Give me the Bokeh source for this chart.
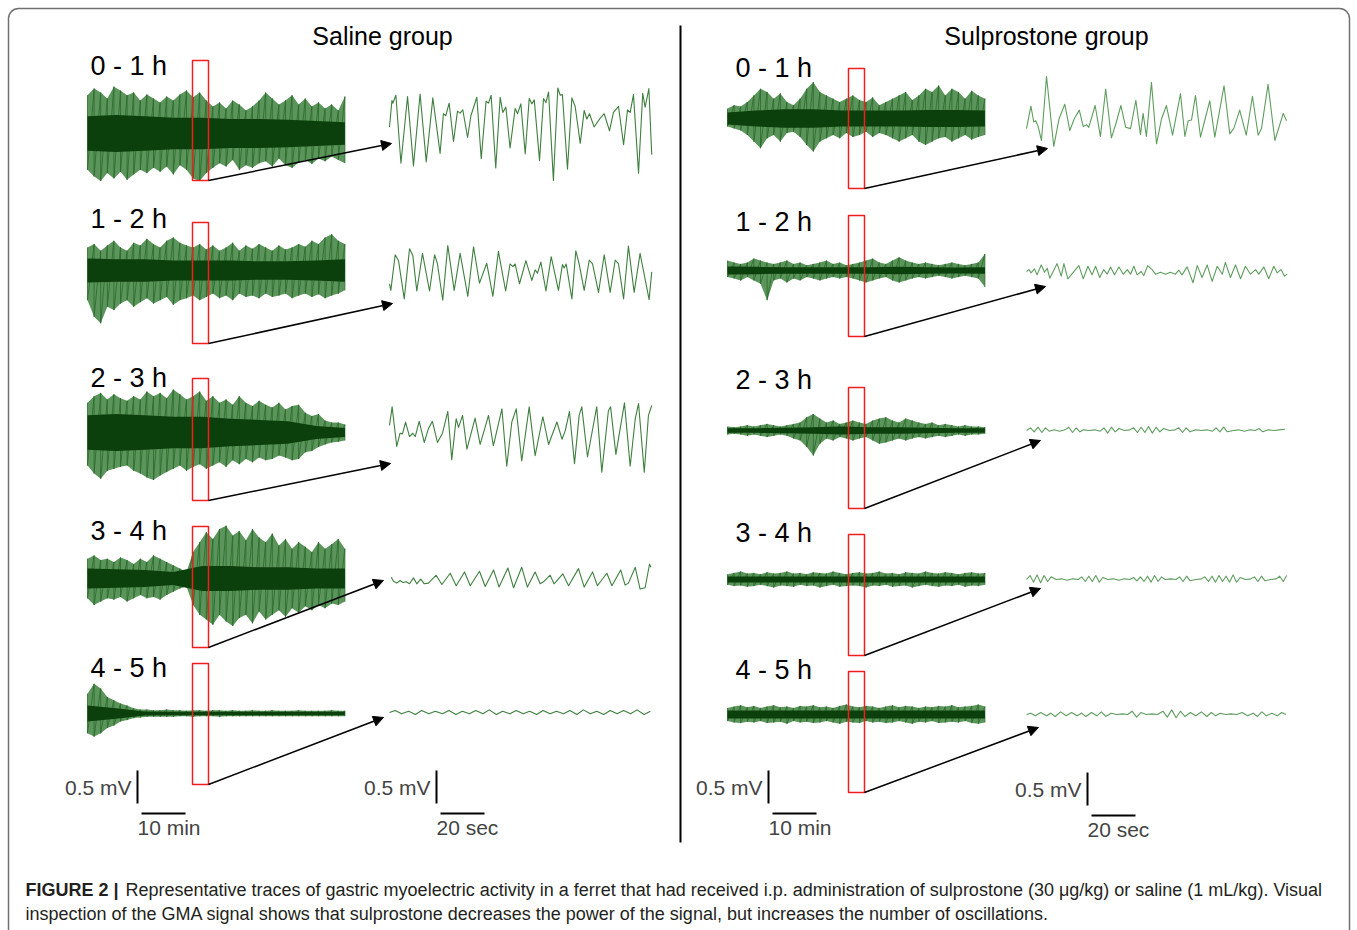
import numpy as np
from bokeh.plotting import figure
from bokeh.models import Range1d, Label, Arrow, NormalHead, BoxAnnotation
from bokeh.embed import file_html
from bokeh.resources import INLINE

# ---------------- DATA ----------------
GROUPS = ["Saline group", "Sulprostone group"]
PERIODS = ["0 - 1 h", "1 - 2 h", "2 - 3 h", "3 - 4 h", "4 - 5 h"]
SCALE_MV = 0.5      # mV
SCALE_MIN = 10      # min
SCALE_SEC = 20      # s
CAPTION_BOLD = "FIGURE 2 |"
CAPTION_1 = ("Representative traces of gastric myoelectric activity in a ferret that had received i.p. "
             "administration of sulprostone (30 \u03bcg/kg) or saline (1 mL/kg). Visual")
CAPTION_2 = ("inspection of the GMA signal shows that sulprostone decreases the power of the signal, "
             "but increases the number of oscillations.")

# raw 1-h traces: envelope (mV) sampled every 1.5 min, dense core half-width (mV)
RAW_T = [0.0, 1.5, 3.0, 4.5, 6.0, 7.5, 9.0, 10.5, 12.0, 13.5, 15.0, 16.5, 18.0, 19.5, 21.0, 22.5,
         24.0, 25.5, 27.0, 28.5, 30.0, 31.5, 33.0, 34.5, 36.0, 37.5, 39.0, 40.5, 42.0, 43.5, 45.0,
         46.5, 48.0, 49.5, 51.0, 52.5, 54.0, 55.5, 57.0, 58.5]
CORE_T = [0.0, 6.5, 13.0, 19.5, 26.0, 32.5, 39.0, 45.5, 52.0, 58.5]

SAL_HI = [
    [0.58, 0.68, 0.62, 0.53, 0.71, 0.65, 0.58, 0.62, 0.50, 0.59, 0.53, 0.47, 0.56, 0.50, 0.59, 0.65, 0.55, 0.62, 0.50, 0.41,
     0.47, 0.38, 0.50, 0.44, 0.35, 0.41, 0.50, 0.62, 0.53, 0.44, 0.50, 0.58, 0.44, 0.53, 0.41, 0.47, 0.38, 0.44, 0.35, 0.56],
    [0.35, 0.40, 0.30, 0.38, 0.45, 0.35, 0.30, 0.42, 0.38, 0.48, 0.40, 0.35, 0.45, 0.50, 0.42, 0.38, 0.35, 0.40, 0.32, 0.38,
     0.30, 0.35, 0.42, 0.30, 0.38, 0.33, 0.40, 0.35, 0.30, 0.38, 0.32, 0.35, 0.40, 0.36, 0.45, 0.40, 0.50, 0.55, 0.45, 0.40],
    [0.45, 0.55, 0.60, 0.50, 0.58, 0.52, 0.48, 0.55, 0.50, 0.62, 0.55, 0.60, 0.52, 0.65, 0.58, 0.50, 0.55, 0.62, 0.48, 0.55,
     0.45, 0.50, 0.42, 0.55, 0.45, 0.40, 0.48, 0.42, 0.38, 0.45, 0.35, 0.40, 0.42, 0.30, 0.25, 0.28, 0.18, 0.15, 0.15, 0.12],
    [0.30, 0.35, 0.28, 0.30, 0.25, 0.32, 0.28, 0.22, 0.30, 0.25, 0.35, 0.30, 0.25, 0.20, 0.15, 0.10, 0.40, 0.55, 0.70, 0.60,
     0.75, 0.80, 0.65, 0.72, 0.58, 0.75, 0.62, 0.55, 0.68, 0.50, 0.60, 0.45, 0.55, 0.48, 0.40, 0.55, 0.45, 0.52, 0.60, 0.45],
    [0.30, 0.45, 0.38, 0.25, 0.20, 0.15, 0.12, 0.08, 0.06, 0.06, 0.05, 0.05, 0.06, 0.05, 0.05, 0.04, 0.05, 0.05, 0.04, 0.05,
     0.05, 0.04, 0.05, 0.04, 0.04, 0.05, 0.04, 0.04, 0.05, 0.04, 0.04, 0.04, 0.05, 0.04, 0.04, 0.04, 0.04, 0.05, 0.04, 0.04],
]
SAL_LO = [
    [-0.55, -0.65, -0.72, -0.60, -0.68, -0.58, -0.70, -0.62, -0.55, -0.60, -0.52, -0.58, -0.50, -0.62, -0.48, -0.55, -0.68, -0.72, -0.60, -0.52,
     -0.45, -0.50, -0.40, -0.55, -0.48, -0.52, -0.45, -0.42, -0.50, -0.38, -0.48, -0.52, -0.44, -0.40, -0.46, -0.38, -0.42, -0.35, -0.40, -0.45],
    [-0.45, -0.70, -0.80, -0.55, -0.60, -0.50, -0.45, -0.55, -0.48, -0.42, -0.50, -0.45, -0.40, -0.52, -0.45, -0.42, -0.38, -0.45, -0.40, -0.35,
     -0.42, -0.38, -0.45, -0.35, -0.40, -0.38, -0.42, -0.35, -0.40, -0.38, -0.35, -0.42, -0.38, -0.35, -0.40, -0.36, -0.42, -0.38, -0.35, -0.30],
    [-0.50, -0.62, -0.70, -0.58, -0.55, -0.52, -0.50, -0.58, -0.62, -0.68, -0.72, -0.65, -0.60, -0.55, -0.50, -0.58, -0.52, -0.48, -0.55, -0.50,
     -0.45, -0.52, -0.42, -0.48, -0.40, -0.45, -0.38, -0.42, -0.40, -0.35, -0.38, -0.42, -0.40, -0.30, -0.28, -0.22, -0.18, -0.15, -0.14, -0.12],
    [-0.30, -0.40, -0.35, -0.30, -0.32, -0.28, -0.35, -0.30, -0.25, -0.30, -0.28, -0.32, -0.25, -0.20, -0.15, -0.12, -0.40, -0.55, -0.62, -0.70,
     -0.55, -0.65, -0.72, -0.60, -0.55, -0.68, -0.50, -0.62, -0.55, -0.48, -0.58, -0.45, -0.52, -0.42, -0.48, -0.40, -0.45, -0.38, -0.40, -0.35],
    [-0.30, -0.35, -0.30, -0.22, -0.18, -0.12, -0.10, -0.07, -0.06, -0.05, -0.05, -0.05, -0.05, -0.05, -0.04, -0.04, -0.05, -0.04, -0.04, -0.04,
     -0.05, -0.04, -0.04, -0.04, -0.04, -0.04, -0.04, -0.04, -0.04, -0.04, -0.04, -0.04, -0.04, -0.04, -0.04, -0.04, -0.04, -0.04, -0.04, -0.04],
]
SAL_CORE = [
    [0.26, 0.28, 0.26, 0.24, 0.24, 0.22, 0.22, 0.21, 0.19, 0.17],
    [0.18, 0.17, 0.17, 0.15, 0.15, 0.15, 0.14, 0.14, 0.15, 0.17],
    [0.26, 0.28, 0.26, 0.24, 0.24, 0.21, 0.19, 0.17, 0.10, 0.07],
    [0.15, 0.14, 0.13, 0.10, 0.19, 0.19, 0.17, 0.17, 0.15, 0.15],
    [0.12, 0.08, 0.03, 0.025, 0.025, 0.025, 0.025, 0.025, 0.025, 0.025],
]
SUL_HI = [
    [0.15, 0.20, 0.18, 0.25, 0.35, 0.45, 0.40, 0.30, 0.38, 0.25, 0.20, 0.30, 0.45, 0.55, 0.40, 0.35, 0.30, 0.25, 0.30, 0.35,
     0.28, 0.25, 0.32, 0.20, 0.25, 0.30, 0.35, 0.40, 0.28, 0.35, 0.45, 0.40, 0.50, 0.35, 0.45, 0.40, 0.30, 0.42, 0.35, 0.30],
    [0.15, 0.12, 0.10, 0.12, 0.18, 0.15, 0.12, 0.10, 0.12, 0.15, 0.10, 0.12, 0.08, 0.10, 0.12, 0.15, 0.10, 0.12, 0.08, 0.10,
     0.12, 0.15, 0.18, 0.12, 0.10, 0.15, 0.20, 0.15, 0.12, 0.10, 0.12, 0.10, 0.08, 0.10, 0.12, 0.10, 0.08, 0.10, 0.12, 0.25],
    [0.06, 0.05, 0.06, 0.08, 0.06, 0.08, 0.10, 0.08, 0.06, 0.08, 0.10, 0.12, 0.20, 0.25, 0.18, 0.12, 0.15, 0.10, 0.12, 0.15,
     0.12, 0.10, 0.15, 0.18, 0.20, 0.15, 0.12, 0.18, 0.15, 0.12, 0.10, 0.12, 0.08, 0.10, 0.08, 0.06, 0.08, 0.06, 0.06, 0.05],
    [0.08, 0.10, 0.12, 0.09, 0.10, 0.08, 0.11, 0.09, 0.10, 0.12, 0.09, 0.10, 0.08, 0.11, 0.10, 0.09, 0.12, 0.10, 0.08, 0.10,
     0.11, 0.09, 0.10, 0.12, 0.09, 0.10, 0.08, 0.11, 0.10, 0.09, 0.12, 0.10, 0.09, 0.11, 0.10, 0.08, 0.10, 0.11, 0.09, 0.10],
    [0.10, 0.12, 0.14, 0.11, 0.13, 0.10, 0.12, 0.14, 0.11, 0.12, 0.10, 0.13, 0.12, 0.14, 0.11, 0.12, 0.10, 0.13, 0.15, 0.12,
     0.11, 0.13, 0.12, 0.10, 0.12, 0.14, 0.11, 0.13, 0.12, 0.10, 0.12, 0.11, 0.13, 0.12, 0.14, 0.11, 0.12, 0.13, 0.15, 0.12],
]
SUL_LO = [
    [-0.12, -0.15, -0.18, -0.25, -0.35, -0.45, -0.30, -0.25, -0.35, -0.22, -0.20, -0.28, -0.40, -0.50, -0.35, -0.30, -0.25, -0.30, -0.22, -0.28,
     -0.25, -0.20, -0.28, -0.22, -0.25, -0.30, -0.35, -0.30, -0.25, -0.35, -0.40, -0.35, -0.30, -0.28, -0.35, -0.30, -0.25, -0.32, -0.28, -0.25],
    [-0.10, -0.12, -0.15, -0.10, -0.15, -0.20, -0.45, -0.15, -0.12, -0.18, -0.12, -0.15, -0.10, -0.12, -0.15, -0.12, -0.10, -0.12, -0.10, -0.12,
     -0.15, -0.18, -0.15, -0.12, -0.10, -0.15, -0.18, -0.15, -0.12, -0.10, -0.12, -0.10, -0.08, -0.10, -0.12, -0.10, -0.08, -0.10, -0.12, -0.25],
    [-0.06, -0.05, -0.06, -0.08, -0.06, -0.08, -0.10, -0.08, -0.06, -0.08, -0.12, -0.15, -0.25, -0.38, -0.20, -0.12, -0.15, -0.10, -0.12, -0.15,
     -0.12, -0.10, -0.15, -0.20, -0.18, -0.15, -0.12, -0.15, -0.12, -0.10, -0.12, -0.10, -0.08, -0.10, -0.08, -0.06, -0.08, -0.06, -0.06, -0.05],
    [-0.08, -0.10, -0.09, -0.11, -0.10, -0.08, -0.10, -0.12, -0.09, -0.10, -0.11, -0.08, -0.10, -0.09, -0.12, -0.10, -0.08, -0.11, -0.10, -0.09,
     -0.10, -0.12, -0.09, -0.10, -0.08, -0.11, -0.10, -0.09, -0.12, -0.10, -0.08, -0.10, -0.11, -0.09, -0.10, -0.08, -0.11, -0.09, -0.10, -0.08],
    [-0.10, -0.12, -0.13, -0.11, -0.12, -0.10, -0.13, -0.12, -0.11, -0.14, -0.10, -0.12, -0.11, -0.13, -0.12, -0.10, -0.12, -0.14, -0.11, -0.12,
     -0.13, -0.10, -0.12, -0.11, -0.13, -0.12, -0.10, -0.12, -0.14, -0.11, -0.12, -0.10, -0.13, -0.12, -0.11, -0.12, -0.10, -0.13, -0.14, -0.12],
]
SUL_CORE = [
    [0.09, 0.12, 0.14, 0.14, 0.12, 0.12, 0.12, 0.13, 0.13, 0.12],
    [0.06, 0.055, 0.05, 0.05, 0.05, 0.05, 0.055, 0.05, 0.045, 0.05],
    [0.035, 0.035, 0.04, 0.05, 0.06, 0.05, 0.05, 0.04, 0.035, 0.035],
    [0.045, 0.045, 0.045, 0.045, 0.045, 0.045, 0.045, 0.045, 0.045, 0.045],
    [0.06, 0.06, 0.06, 0.06, 0.06, 0.06, 0.06, 0.06, 0.06, 0.06],
]

# expanded 2-min segments: time (s) and voltage (mV) of read turning points
SAL_Z_T = [
    [0, 1.1, 1.5, 2.9, 5.2, 8.2, 10.9, 13.9, 16.7, 19.7, 23.0, 24.5, 25.6, 27.1, 29.1, 30.9, 32.1, 33.3, 35.5, 37.0,
     39.7, 41.7, 43.9, 45.0, 46.2, 48.3, 50.3, 51.5, 52.9, 54.8, 57.1, 58.2, 59.7, 61.7, 63.5, 64.7, 65.8, 68.2, 70.0,
     71.1, 72.3, 74.5, 76.5, 77.6, 78.6, 80.9, 82.9, 84.4, 86.7, 88.5, 89.7, 90.9, 93.0, 95.7, 97.6, 100.0, 101.8,
     104.1, 106.4, 108.2, 109.4, 110.9, 113.2, 115.1, 116.2, 117.9, 119.2],
    [0, 0.6, 2.6, 4.1, 6.7, 9.1, 10.6, 12.4, 15.0, 18.2, 20.5, 21.8, 24.2, 26.5, 29.4, 32.1, 35.6, 38.2, 40.9, 44.2,
     47.0, 49.5, 52.8, 54.8, 56.1, 57.1, 59.1, 62.0, 64.7, 66.2, 67.3, 68.8, 71.1, 73.5, 76.8, 78.6, 79.4, 80.3, 82.9,
     84.7, 86.2, 88.5, 90.8, 92.3, 95.0, 97.6, 100.3, 102.6, 104.1, 106.4, 108.6, 111.2, 113.9, 118.0, 119.2],
    [0, 1.2, 3.3, 4.8, 5.9, 7.3, 9.1, 10.6, 11.7, 13.5, 15.8, 17.7, 19.5, 21.8, 24.1, 26.5, 28.3, 30.3, 31.4, 33.2,
     35.2, 38.9, 41.2, 45.0, 47.2, 51.1, 53.3, 55.6, 57.6, 60.1, 63.5, 66.2, 69.7, 72.3, 76.1, 78.4, 79.9, 81.8, 84.1,
     86.2, 87.4, 90.0, 94.2, 96.5, 99.5, 100.5, 102.9, 106.8, 109.4, 111.7, 113.2, 115.8, 117.7, 119.2],
    [0.8, 1.8, 3.3, 4.8, 6.1, 7.6, 9.1, 10.9, 12.4, 14.2, 15.8, 17.7, 21.2, 23.8, 27.6, 30.3, 34.1, 36.7, 40.9, 43.5,
     47.3, 49.8, 53.8, 56.4, 60.1, 62.7, 66.2, 68.5, 70.0, 73.0, 74.8, 78.8, 81.4, 85.9, 88.5, 92.3, 94.5, 98.8, 101.1,
     105.1, 107.1, 108.6, 111.7, 113.9, 116.2, 118.2, 118.8],
    [0, 2.6, 5.5, 8.7, 11.8, 14.6, 17.9, 20.8, 24.1, 27.0, 30.2, 33.1, 36.3, 39.2, 42.5, 45.3, 48.6, 51.4, 54.7, 57.6,
     60.8, 63.7, 66.9, 69.8, 73.0, 75.9, 79.1, 82.0, 85.2, 88.1, 91.3, 94.2, 97.4, 100.3, 103.5, 106.4, 109.6, 112.5,
     115.7, 118.6],
]
SAL_Z_V = [
    [0.11, 0.51, 0.47, 0.59, -0.44, 0.57, -0.48, 0.61, -0.42, 0.55, -0.29, 0.31, 0.28, 0.47, -0.11, 0.35, 0.32, 0.37, -0.05, 0.28,
     0.56, -0.37, 0.50, 0.47, 0.59, -0.51, 0.56, 0.33, 0.41, -0.21, 0.39, 0.31, 0.46, -0.30, 0.54, 0.46, 0.52, -0.40, 0.54,
     0.48, 0.64, -0.70, 0.70, 0.59, 0.60, -0.53, 0.55, 0.42, -0.14, 0.36, 0.23, 0.31, 0.11, 0.24, 0.31, 0.05, 0.33,
     0.42, -0.16, 0.37, 0.33, 0.60, -0.59, 0.62, 0.41, 0.69, -0.31],
    [-0.16, -0.26, 0.28, 0.19, -0.39, 0.37, 0.27, -0.27, 0.30, -0.27, 0.28, 0.14, -0.41, 0.42, -0.26, 0.30, -0.35, 0.40, -0.15, 0.15,
     -0.35, 0.33, -0.27, 0.14, 0.10, 0.14, -0.16, 0.19, -0.11, 0.05, 0.0, 0.17, -0.27, 0.25, -0.26, 0.13, 0.08, 0.14, -0.39,
     0.34, 0.14, -0.26, 0.20, 0.14, -0.29, 0.28, -0.29, 0.20, 0.14, -0.39, 0.41, -0.29, 0.30, -0.40, 0.02],
    [0.18, 0.46, -0.14, 0.06, 0.05, 0.23, 0.01, 0.06, 0.01, 0.24, -0.08, 0.13, 0.24, -0.08, 0.06, 0.39, -0.34, 0.28, 0.15, 0.33,
     -0.18, 0.29, -0.11, 0.33, -0.13, 0.43, -0.44, 0.23, 0.43, -0.36, 0.46, -0.28, 0.31, -0.11, 0.23, -0.03, 0.10, 0.39, -0.40,
     0.33, 0.46, -0.30, 0.46, -0.53, 0.40, 0.46, -0.26, 0.52, -0.44, 0.28, 0.51, -0.53, 0.33, 0.48],
    [0.10, 0.04, 0.01, 0.05, 0.02, 0.03, 0.0, 0.09, 0.0, 0.07, 0.0, 0.01, 0.13, -0.01, 0.16, -0.03, 0.18, -0.03, 0.19, -0.04,
     0.21, -0.05, 0.24, -0.06, 0.25, -0.05, 0.18, 0.0, 0.03, 0.13, 0.0, 0.15, -0.03, 0.23, -0.05, 0.18, -0.03, 0.16, -0.03,
     0.21, -0.02, 0.01, 0.25, -0.08, -0.06, 0.30, 0.25],
    [0.0, 0.03, -0.02, 0.02, -0.03, 0.03, -0.02, 0.02, -0.02, 0.03, -0.03, 0.02, -0.02, 0.03, -0.02, 0.04, -0.03, 0.02, -0.02, 0.03,
     -0.02, 0.02, -0.03, 0.03, -0.02, 0.02, -0.02, 0.03, -0.03, 0.04, -0.02, 0.02, -0.03, 0.03, -0.02, 0.03, -0.02, 0.04,
     -0.03, 0.02],
]
SUL_Z_T = [
    [0, 2.0, 3.3, 4.2, 5.3, 6.8, 9.1, 12.4, 14.8, 17.4, 19.7, 21.7, 24.0, 25.8, 27.3, 28.3, 31.2, 33.6, 36.0, 38.6,
     40.6, 42.9, 45.1, 47.3, 49.7, 51.8, 53.0, 54.5, 56.8, 59.1, 61.4, 63.6, 66.4, 70.0, 72.0, 73.5, 75.0, 76.8, 79.1,
     80.6, 83.3, 85.6, 89.8, 92.4, 94.2, 96.9, 99.9, 102.7, 105.3, 106.8, 109.8, 112.9, 116.7, 118.2],
    [0, 1.1, 2.1, 3.6, 4.8, 6.7, 8.2, 9.4, 10.6, 12.4, 13.9, 15.8, 17.0, 18.8, 21.5, 23.8, 25.8, 27.9, 29.8, 31.4,
     33.3, 35.1, 36.7, 38.2, 40.0, 42.0, 44.0, 45.8, 47.3, 48.8, 50.3, 52.1, 53.3, 55.1, 57.1, 58.6, 60.9, 63.2, 65.4,
     67.7, 69.2, 70.7, 73.0, 75.7, 77.6, 79.8, 82.1, 84.4, 86.7, 89.0, 90.4, 92.7, 95.0, 97.3, 99.5, 101.8, 104.1,
     105.6, 107.9, 110.1, 112.4, 113.9, 115.7, 117.3, 118.5],
    [0, 1.8, 3.5, 5.2, 7.0, 8.6, 10.3, 12.5, 15.0, 17.5, 19.2, 20.9, 22.6, 24.3, 26.0, 28.5, 31.0, 33.5, 35.2, 36.9,
     38.6, 40.3, 42.0, 44.5, 47.0, 48.7, 50.4, 52.1, 53.8, 55.5, 57.2, 58.9, 60.6, 62.3, 65.0, 67.5, 69.2, 70.9, 72.6,
     74.3, 77.0, 79.5, 82.0, 84.5, 86.2, 87.9, 89.6, 91.3, 94.0, 96.5, 99.0, 101.5, 104.0, 105.7, 107.4, 110.0, 112.5,
     115.0, 117.5],
    [0, 1.6, 3.2, 4.8, 6.4, 8.0, 9.6, 11.2, 13.5, 16.0, 18.5, 21.0, 23.5, 25.1, 26.7, 28.3, 29.9, 31.5, 33.1, 34.7,
     37.0, 39.5, 42.0, 44.5, 47.0, 48.6, 50.2, 51.8, 53.4, 55.0, 56.6, 58.2, 59.8, 61.4, 63.0, 65.5, 68.0, 69.6, 71.2,
     72.8, 74.4, 77.0, 79.5, 81.1, 82.7, 84.3, 85.9, 87.5, 89.1, 90.7, 92.3, 93.9, 95.5, 97.1, 99.5, 102.0, 103.6,
     105.2, 106.8, 108.4, 111.0, 113.5, 115.1, 116.7, 118.3],
    [0, 2.0, 4.0, 6.5, 9.0, 11.0, 13.0, 15.5, 18.0, 20.5, 23.0, 25.0, 27.0, 29.5, 32.0, 34.0, 36.0, 38.5, 41.0, 43.5,
     46.0, 48.0, 50.0, 52.0, 54.5, 57.0, 59.5, 62.0, 64.0, 66.0, 68.0, 70.0, 72.0, 74.5, 77.0, 79.5, 82.0, 84.0, 86.0,
     88.0, 90.5, 93.0, 95.5, 98.0, 100.5, 103.0, 105.0, 107.0, 109.0, 111.5, 114.0, 116.0, 118.0],
]
SUL_Z_V = [
    [-0.27, 0.07, -0.17, -0.15, -0.24, -0.45, 0.52, -0.54, -0.12, 0.10, -0.30, -0.12, 0.01, -0.24, -0.21, -0.25, 0.08, -0.39, 0.33, -0.41,
     -0.20, 0.08, -0.25, -0.27, 0.16, -0.36, -0.04, -0.39, 0.43, -0.50, -0.12, 0.08, -0.37, 0.26, -0.39, -0.15, -0.14, 0.23, -0.40,
     -0.20, 0.15, -0.40, 0.38, -0.35, -0.27, 0.01, -0.37, 0.22, -0.37, -0.27, 0.40, -0.45, -0.04, -0.15],
    [0.01, 0.04, -0.01, 0.05, -0.04, 0.11, 0.0, 0.06, -0.09, 0.03, 0.13, -0.06, 0.13, -0.10, 0.01, 0.10, -0.10, 0.09, -0.04, 0.09,
     -0.08, 0.04, -0.03, 0.08, -0.04, 0.08, -0.03, 0.04, -0.03, 0.09, -0.04, 0.01, -0.05, 0.10, 0.04, -0.03, 0.0, -0.03, 0.0,
     -0.03, 0.03, -0.04, 0.08, -0.16, 0.10, -0.08, 0.11, -0.14, 0.09, -0.03, 0.15, -0.08, 0.11, -0.10, 0.09, -0.03, 0.04,
     -0.03, 0.08, -0.10, 0.09, -0.01, 0.04, -0.06, -0.03],
    [0, 0.04, -0.02, 0.05, -0.03, 0.04, -0.01, 0.01, -0.01, 0.01, 0.05, -0.03, 0.04, -0.02, 0.01, 0.0, 0.01, -0.01, 0.04, -0.04,
     0.05, -0.02, 0.03, 0.0, 0.01, 0.04, -0.03, 0.05, -0.03, 0.06, -0.04, 0.05, -0.02, 0.03, 0.0, 0.01, 0.04, -0.03, 0.04,
     -0.02, 0.01, 0.0, 0.01, -0.01, 0.04, -0.02, 0.05, -0.02, 0.0, 0.01, -0.01, 0.01, 0.0, 0.03, -0.02, 0.01, 0.0,
     0.01, 0.02],
    [0, 0.06, -0.04, 0.07, -0.05, 0.06, -0.03, 0.04, 0.0, 0.01, -0.01, 0.01, 0.0, 0.04, -0.03, 0.05, -0.03, 0.06, -0.04, 0.03,
     0.0, 0.01, -0.01, 0.01, 0.0, 0.03, -0.02, 0.04, -0.03, 0.05, -0.04, 0.06, -0.03, 0.04, 0.0, 0.01, 0.0, 0.04, -0.03,
     0.05, -0.02, 0.0, 0.01, 0.04, -0.03, 0.05, -0.04, 0.06, -0.03, 0.05, -0.04, 0.07, -0.04, 0.03, 0.0, 0.01, 0.04,
     -0.03, 0.05, -0.02, 0.0, 0.01, 0.05, -0.03, 0.06],
    [0, 0.02, -0.02, 0.03, -0.02, 0.02, -0.03, 0.04, -0.02, 0.03, -0.02, 0.02, -0.03, 0.03, -0.02, 0.04, -0.03, 0.02, 0.0, 0.01,
     0.0, 0.05, -0.04, 0.03, 0.0, 0.01, 0.0, 0.05, -0.04, 0.07, -0.05, 0.05, -0.03, 0.03, -0.02, 0.04, -0.03, 0.03, -0.02,
     0.02, 0.0, 0.01, 0.0, 0.03, -0.02, 0.02, -0.03, 0.04, -0.02, 0.02, -0.02, 0.03, 0.0],
]

# ---------------- LAYOUT / STYLE ----------------
W, H = 1357, 930
FONT = "Liberation Sans"
PX_MIN, PX_MV, PX_S = 4.4, 66.0, 2.2

COLS = [
    dict(raw_x=87, z_x=389, lab_x=90, title_x=382,
         raw_c=[133, 270, 432, 578, 713], z_c=[133.7, 272.7, 436.7, 583.3, 712],
         lab_y=[65, 218, 377, 530, 667],
         box_x=(192, 208), box_y=[(60, 180), (222, 343), (378, 500), (526, 647), (663, 784)],
         tip=[(391, 143), (392, 303), (390, 463), (383, 580), (383, 717)],
         zcol="#3f7f3f"),
    dict(raw_x=727, z_x=1026, lab_x=735, title_x=1046,
         raw_c=[118, 270, 430, 579, 714], z_c=[110.3, 271.7, 430, 579, 714],
         lab_y=[67, 221, 379, 532, 669],
         box_x=(848, 864), box_y=[(68, 188), (215, 336), (387, 508), (534, 655), (671, 792)],
         tip=[(1047, 148), (1045, 286), (1040, 440), (1040, 588), (1038, 727)],
         zcol="#5f9d5f"),
]
HI = [SAL_HI, SUL_HI]
LO = [SAL_LO, SUL_LO]
CORE = [SAL_CORE, SUL_CORE]
ZT = [SAL_Z_T, SUL_Z_T]
ZV = [SAL_Z_V, SUL_Z_V]


def xr(px0, ppu):
    return Range1d(start=-px0 / ppu, end=(W - px0) / ppu)


def yr(py0, ppu):
    return Range1d(start=(py0 - H) / ppu, end=py0 / ppu)


p = figure(width=W, height=H, output_backend="svg", toolbar_location=None,
           x_range=Range1d(0, W), y_range=Range1d(H, 0),
           x_axis_type=None, y_axis_type=None)
p.min_border_left = p.min_border_right = p.min_border_top = p.min_border_bottom = 0
p.outline_line_color = None
p.background_fill_color = "white"
p.border_fill_color = "white"

xranges, yranges = {}, {}
for g, c in enumerate(COLS):
    xranges[f"raw{g}"] = xr(c["raw_x"], PX_MIN)
    xranges[f"z{g}"] = xr(c["z_x"], PX_S)
    for r in range(5):
        yranges[f"raw{g}_{r}"] = yr(c["raw_c"][r], PX_MV)
        yranges[f"z{g}_{r}"] = yr(c["z_c"][r], PX_MV)
p.extra_x_ranges = xranges
p.extra_y_ranges = yranges

# frame
p.add_layout(BoxAnnotation(left=8, right=1349, top=8, bottom=1000, fill_alpha=0,
                           line_color="#707070", line_alpha=1.0, line_width=1.5, border_radius=10))
# divider
p.segment(x0=[680], y0=[25], x1=[680], y1=[842], line_color="black", line_width=2)

for g, c in enumerate(COLS):
    p.add_layout(Label(x=c["title_x"], y=35, text=GROUPS[g], text_font=FONT, text_font_size="25px",
                       text_align="center", text_baseline="middle", text_color="black"))
    for r in range(5):
        hi, lo, core = HI[g][r], LO[g][r], CORE[g][r]
        assert len(hi) == len(RAW_T) and len(lo) == len(RAW_T) and len(core) == len(CORE_T)
        xk, yk = f"raw{g}", f"raw{g}_{r}"
        p.varea(x=RAW_T, y1=lo, y2=hi, x_range_name=xk, y_range_name=yk,
                fill_color="#4a8a4a", fill_alpha=0.9)
        zx = [t for t in RAW_T for _ in (0, 1)]
        zy = [v for pair in zip(hi, lo) for v in pair]
        p.line(x=zx, y=zy, x_range_name=xk, y_range_name=yk,
               line_color="#2a6a2a", line_width=0.8)
        p.varea(x=CORE_T, y1=[-v for v in core], y2=core, x_range_name=xk,
                y_range_name=yk, fill_color="#0b3f0b")
        zt, zv = ZT[g][r], ZV[g][r]
        assert len(zt) == len(zv), (g, r, len(zt), len(zv))
        p.line(x=zt, y=zv, x_range_name=f"z{g}", y_range_name=f"z{g}_{r}",
               line_color=c["zcol"], line_width=1.1, line_join="round")
        p.add_layout(Label(x=c["lab_x"], y=c["lab_y"][r], text=PERIODS[r], text_font=FONT,
                           text_font_size="27px", text_align="left", text_baseline="middle",
                           text_color="black"))
        x0, x1 = c["box_x"]
        y0, y1 = c["box_y"][r]
        p.add_layout(BoxAnnotation(left=x0, right=x1, top=y0, bottom=y1, fill_alpha=0,
                                   line_color="#f01e1e", line_alpha=1.0, line_width=1.5))
        tx, ty = c["tip"][r]
        p.add_layout(Arrow(end=NormalHead(size=10, fill_color="black", line_color="black"),
                           x_start=x1, y_start=y1, x_end=tx, y_end=ty,
                           line_color="black", line_width=1.5))

# scale bars: vertical bar x, bar top y, horizontal bar y, px per time unit, time value, label
SB = [
    (137, 770, 813, PX_MIN, SCALE_MIN, f"{SCALE_MIN} min"),
    (436, 770, 813, PX_S, SCALE_SEC, f"{SCALE_SEC} sec"),
    (768, 770, 813, PX_MIN, SCALE_MIN, f"{SCALE_MIN} min"),
    (1087, 772, 815, PX_S, SCALE_SEC, f"{SCALE_SEC} sec"),
]
for bx, by, hy, ppu, tv, tl in SB:
    vlen = SCALE_MV * PX_MV
    hlen = tv * ppu
    p.segment(x0=[bx], y0=[by], x1=[bx], y1=[by + vlen], line_color="black", line_width=2)
    p.segment(x0=[bx + 4], y0=[hy], x1=[bx + 4 + hlen], y1=[hy], line_color="black", line_width=2)
    p.add_layout(Label(x=bx - 6, y=by + vlen / 2, text=f"{SCALE_MV} mV", text_font=FONT,
                       text_font_size="21px", text_align="right", text_baseline="middle"))
    p.add_layout(Label(x=bx, y=hy + 14, text=tl, text_font=FONT,
                       text_font_size="21px", text_align="left", text_baseline="middle"))

# caption
p.add_layout(Label(x=25, y=889, text=CAPTION_BOLD, text_font=FONT, text_font_size="18px",
                   text_font_style="bold", text_baseline="middle", text_color="#231f20"))
p.add_layout(Label(x=125, y=889, text=CAPTION_1, text_font=FONT, text_font_size="18px",
                   text_baseline="middle", text_color="#231f20"))
p.add_layout(Label(x=25, y=913, text=CAPTION_2, text_font=FONT, text_font_size="18px",
                   text_baseline="middle", text_color="#231f20"))

open("out.html", "w").write(file_html(p, INLINE))
